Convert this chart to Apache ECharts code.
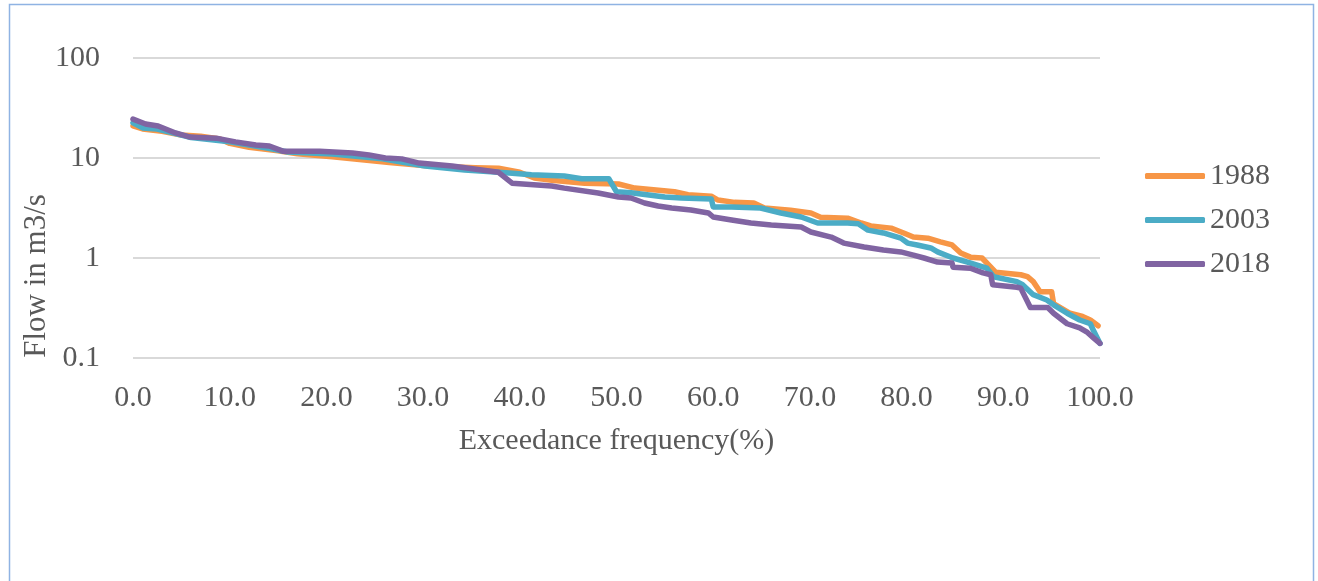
<!DOCTYPE html>
<html>
<head>
<meta charset="utf-8">
<script src="https://cdn.jsdelivr.net/npm/echarts@6/dist/echarts.min.js"></script>
<style>
html,body{margin:0;padding:0;background:#fff;}
#chart{width:1318px;height:581px;}
</style>
</head>
<body>
<div id="chart"></div>
<script>
const xTicks = ['0.0','10.0','20.0','30.0','40.0','50.0','60.0','70.0','80.0','90.0','100.0'];
const yTicks = ['0.1','1','10','100'];
const seriesNames = ['1988','2003','2018'];

const freq1988 = [0,1,3,5,7,9,10,12,15,17,20.6,26.5,30,35.4,37.8,40,41.5,43.3,46.7,50.2,51.9,56,57.4,59.8,60.5,62.2,64.2,65.3,68,70.1,71.1,73.9,75.3,76.3,78.4,79.7,80.7,82.2,83.5,84.7,85.6,86.6,87.8,89.2,91.8,92.5,93.1,93.8,95.0,95.2,96.9,98.2,99.0,99.8];
const flow1988 = [21,19.5,18.5,17,16.5,15.5,14,12.8,11.8,11,10.3,9.0,8.4,8.0,7.9,7.2,6.3,6.0,5.6,5.5,5.0,4.6,4.3,4.15,3.8,3.6,3.55,3.16,3.0,2.82,2.55,2.5,2.24,2.09,1.99,1.78,1.62,1.58,1.45,1.35,1.12,1.02,1.0,0.72,0.68,0.65,0.58,0.46,0.46,0.35,0.28,0.26,0.24,0.21];

const freq2003 = [0,1,2.5,4,6,10,14,16,20.6,25.8,30.2,34.3,37.8,38.9,41.2,44.6,46.4,49.2,50.0,51.5,55.0,56.7,59.8,60.0,61.9,64.9,67.0,69.1,70.8,73.9,75.0,76.0,77.6,79.4,80.1,81.1,82.5,83.2,84.8,86.3,88.3,89.0,91.4,92.0,93.1,94.5,95.2,96.6,97.9,99.0,99.3,100];
const flow2003 = [22.5,20,19.5,18,16,14.5,12.5,11.5,10.96,9.8,8.3,7.6,7.2,7.08,6.8,6.6,6.2,6.2,4.6,4.5,4.07,3.98,3.9,3.24,3.24,3.16,2.82,2.57,2.24,2.24,2.2,1.9,1.78,1.58,1.41,1.35,1.26,1.15,1.0,0.91,0.79,0.65,0.58,0.54,0.43,0.38,0.34,0.28,0.24,0.22,0.19,0.14];

const freq2018 = [0,1.3,2.6,4.4,5.9,8.6,10.6,12.7,14.1,15.5,19.3,22.7,24.4,26.1,27.8,29.6,33.0,35.1,37.8,39.2,43.3,44.6,48.1,50.2,51.5,52.9,54.3,55.7,57.7,59.5,60.0,61.9,63.9,66.0,69.1,70.1,72.2,73.5,75.6,77.6,79.4,80.7,81.8,83.2,84.7,84.8,86.6,87.9,88.7,88.9,91.4,91.8,92.8,94.6,95.2,96.6,97.9,98.7,99.3,100];
const flow2018 = [24.5,21.9,20.9,17.8,16.2,15.8,14.5,13.5,13.2,11.7,11.7,11.2,10.7,10.0,9.8,8.9,8.3,7.8,7.2,5.6,5.25,5.0,4.47,4.07,3.98,3.55,3.31,3.16,3.02,2.82,2.57,2.40,2.24,2.14,2.04,1.82,1.62,1.41,1.29,1.20,1.15,1.07,1.0,0.91,0.89,0.81,0.79,0.71,0.68,0.54,0.51,0.50,0.32,0.32,0.28,0.22,0.20,0.18,0.16,0.14];

const zip = (a, b) => a.map((x, i) => [x, b[i]]);
const colors = ['#F79646', '#4BACC6', '#8064A2'];
const dataSets = [zip(freq1988, flow1988), zip(freq2003, flow2003), zip(freq2018, flow2018)];

const FONT = '"Liberation Serif", "Times New Roman", serif';
const TXT = '#595959';

const chart = echarts.init(document.getElementById('chart'), null, {renderer: 'canvas'});
chart.setOption({
  animation: false,
  backgroundColor: '#fff',
  grid: {left: 133, right: 218, top: 58, bottom: 223, containLabel: false},
  xAxis: {
    type: 'value', min: 0, max: 100, interval: 10,
    axisLine: {show: false}, axisTick: {show: false}, splitLine: {show: false},
    axisLabel: {
      color: TXT, fontFamily: FONT, fontSize: 30, margin: 25,
      formatter: v => xTicks[Math.round(v / 10)]
    },
    name: 'Exceedance frequency(%)', nameLocation: 'middle', nameGap: 68,
    nameTextStyle: {color: TXT, fontFamily: FONT, fontSize: 30}
  },
  yAxis: {
    type: 'log', logBase: 10, min: 0.1, max: 100,
    axisLine: {show: false}, axisTick: {show: false},
    splitLine: {show: true, lineStyle: {color: '#D9D9D9', width: 2}},
    axisLabel: {
      color: TXT, fontFamily: FONT, fontSize: 30, margin: 33,
      formatter: v => yTicks[Math.round(Math.log10(v)) + 1]
    }
  },
  legend: {
    orient: 'vertical', left: 1140, top: 156,
    itemWidth: 60, itemHeight: 6, itemGap: 14, icon: 'roundRect',
    textStyle: {color: TXT, fontFamily: FONT, fontSize: 30, lineHeight: 30},
    data: seriesNames
  },
  graphic: [
    {type: 'rect', shape: {x: 9.5, y: 4.5, width: 1304, height: 600},
     style: {fill: 'none', stroke: '#8FB3E3', lineWidth: 1.5}, silent: true},
    {type: 'text', x: 37, y: 276, rotation: Math.PI / 2,
     style: {text: 'Flow in m3/s', fill: TXT, font: '31px ' + FONT,
             align: 'center', verticalAlign: 'middle'}}
  ],
  series: seriesNames.map((n, i) => ({
    name: n, type: 'line', data: dataSets[i],
    showSymbol: false, symbol: 'none', smooth: false,
    lineStyle: {color: colors[i], width: 5.5, cap: 'round', join: 'round'},
    itemStyle: {color: colors[i]}
  }))
});
</script>
</body>
</html>
